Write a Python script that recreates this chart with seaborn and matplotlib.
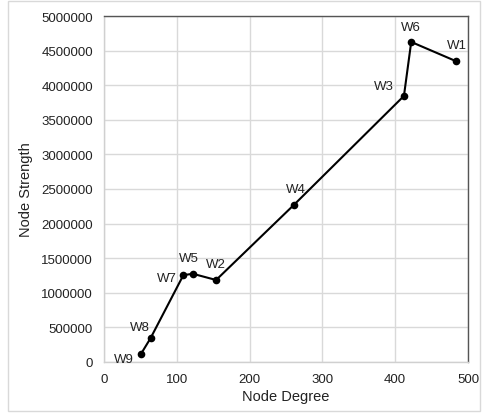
import numpy as np
import pandas as pd
import matplotlib
matplotlib.use("Agg")
import matplotlib.pyplot as plt
import seaborn as sns

# values
nodes = ["W9", "W8", "W7", "W5", "W2", "W4", "W3", "W6", "W1"]
degree = [51, 64, 109, 122, 154, 261, 412, 422, 484]
strength = [120000, 345000, 1255000, 1275000, 1185000, 2272000, 3845000, 4625000, 4345000]

# label offsets in pixels (dx, dy, horizontal alignment)
label_pos = {
    "W9": (-7, -5, "right"),
    "W8": (-11, 5, "center"),
    "W7": (-7, -3, "right"),
    "W5": (-4, 10, "center"),
    "W2": (0, 10, "center"),
    "W4": (2, 10, "center"),
    "W3": (-10, 4, "right"),
    "W6": (0, 9, "center"),
    "W1": (1, 10, "center"),
}

df = pd.DataFrame({"node": nodes, "degree": degree, "strength": strength})

sns.set_style("white")
plt.rcParams["font.family"] = ["Liberation Sans", "DejaVu Sans"]

fig = plt.figure(figsize=(4.88, 4.14), dpi=100)
ax = fig.add_axes([104 / 488, 51 / 414, 364 / 488, 346 / 414])

sns.lineplot(data=df, x="degree", y="strength", sort=False, color="black",
             linewidth=1.5, marker="o", markersize=5.5, markeredgewidth=0, ax=ax)

for n, x, y in zip(nodes, degree, strength):
    dx, dy, ha = label_pos[n]
    ax.annotate(n, (x, y), xytext=(dx, dy), textcoords="offset pixels",
                ha=ha, va="bottom" if dy > 0 else "center", fontsize=9.5, color="#222222")

ax.set_xlim(0, 500)
ax.set_ylim(0, 5000000)
ax.set_xticks(np.arange(0, 501, 100))
ax.set_yticks(np.arange(0, 5000001, 500000))
ax.set_yticklabels([str(v) for v in range(0, 5000001, 500000)])
ax.grid(True, color="#d9d9d9", linewidth=1)
ax.set_axisbelow(True)
ax.tick_params(length=0, labelsize=9.5, colors="#222222", pad=8)

for s in ["top", "right"]:
    ax.spines[s].set_color("#555555")
    ax.spines[s].set_linewidth(1)
for s in ["left", "bottom"]:
    ax.spines[s].set_color("#d0d0d0")
    ax.spines[s].set_linewidth(1)

ax.set_xlabel("Node Degree", fontsize=10.5, color="#222222", labelpad=3)
ax.set_ylabel("Node Strength", fontsize=10.5, color="#222222")
ax.yaxis.set_label_coords(-0.195, 0.5)

# light outer border like the chart area frame
fig.patches.append(plt.Rectangle((8 / 488, 2 / 414), 472 / 488, 410 / 414,
                                 transform=fig.transFigure, fill=False,
                                 edgecolor="#d9d9d9", linewidth=1))

fig.savefig("out.png", dpi=100)
